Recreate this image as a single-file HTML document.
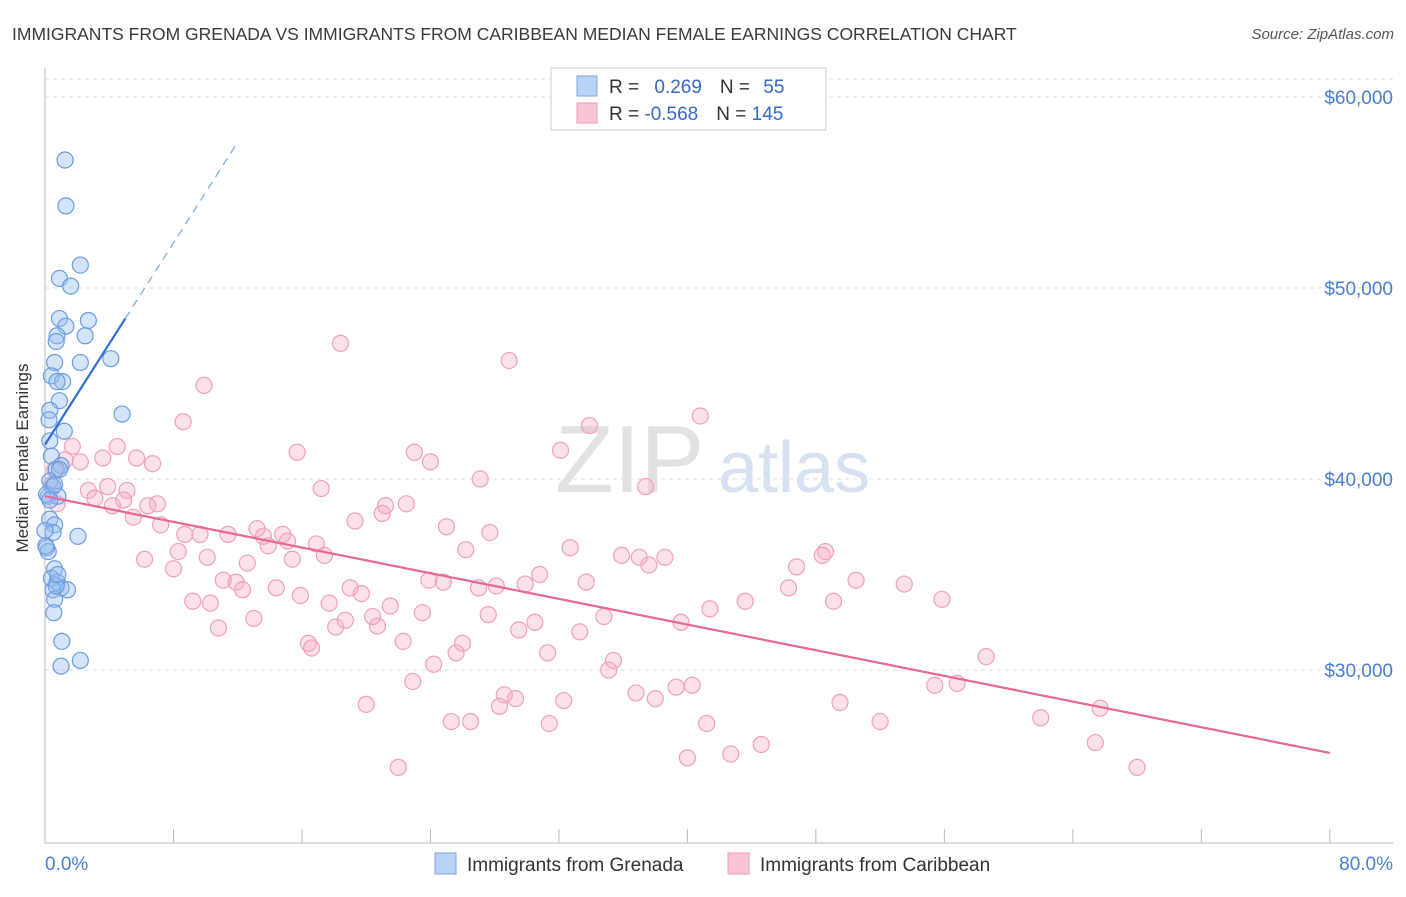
<!DOCTYPE html>
<html><head><meta charset="utf-8">
<style>
body{margin:0;background:#fff;font-family:"Liberation Sans",sans-serif;}
svg text{font-family:"Liberation Sans",sans-serif;}
</style></head>
<body>
<svg id="chart" width="1406" height="892">
<text x="12" y="40" font-size="17.5" fill="#3a3a3a">IMMIGRANTS FROM GRENADA VS IMMIGRANTS FROM CARIBBEAN MEDIAN FEMALE EARNINGS CORRELATION CHART</text>
<text x="1394" y="39" font-size="15" fill="#555" text-anchor="end" font-style="italic">Source: ZipAtlas.com</text>
<text x="28" y="458" font-size="17" fill="#333" text-anchor="middle" transform="rotate(-90 28 458)">Median Female Earnings</text>
<g><text x="555" y="492" font-size="96" fill="#e2e2e2" font-family="Liberation Serif">ZIP</text><text x="718" y="492" font-size="72" fill="#d6e2f2">atlas</text></g>
<g id="grid"></g>
<g id="axes"></g>
<g id="pts"></g>
<g id="trend"></g>
<g>
<rect x="551" y="68" width="275" height="62" fill="#fff" stroke="#ccc"/>
<rect x="577" y="76" width="20" height="20" fill="#b9d2f5" stroke="#7aa6e6"/>
<rect x="577" y="103" width="20" height="20" fill="#f9c5d5" stroke="#ee9ab5"/>
<text x="609" y="93" font-size="19" fill="#333">R = <tspan fill="#3568c8" dx="10">0.269</tspan><tspan dx="18" fill="#333">N = </tspan><tspan fill="#3568c8" dx="8">55</tspan></text>
<text x="609" y="120" font-size="19" fill="#333">R = <tspan fill="#3568c8">-0.568</tspan><tspan dx="18" fill="#333">N = </tspan><tspan fill="#3568c8">145</tspan></text>
</g>
<g>
<rect x="435" y="853" width="21" height="21" fill="#b9d2f5" stroke="#7aa6e6"/>
<text x="467" y="871" font-size="19" fill="#333">Immigrants from Grenada</text>
<rect x="728" y="853" width="21" height="21" fill="#f9c5d5" stroke="#ee9ab5"/>
<text x="760" y="871" font-size="19" fill="#333">Immigrants from Caribbean</text>
</g>
</svg>
<script>
const yTicks=[30,40,50,60];
const yTickLabels=["$30,000","$40,000","$50,000","$60,000"];
const xTickCount=[0,8,16,24,32,40,48,56,64,72,80];
const xEndLabels=["0.0%","80.0%"];
const blueX=[1.25,1.3,2.2,0.9,1.6,0.9,2.7,1.3,0.75,2.5,0.7,0.6,2.2,4.1,0.4,1.1,0.75,0.9,4.8,0.3,0.25,1.2,0.3,0.4,1.0,0.7,0.3,0.5,0.2,0.8,0.3,0.6,0.5,2.05,0.1,0.2,0.6,0.4,0.75,1.0,0.5,1.4,0.6,0.55,1.05,1.0,2.2,0.1,0.3,0.6,0.9,0.0,0.05,0.7,0.8];
const blueV=[56.7,54.3,51.2,50.5,50.1,48.4,48.3,48.0,47.5,47.5,47.2,46.1,46.1,46.3,45.4,45.1,45.1,44.1,43.4,43.6,43.1,42.5,42.0,41.2,40.7,40.5,39.9,39.6,39.1,39.1,37.9,37.6,37.2,37.0,36.4,36.2,35.3,34.8,34.6,34.3,34.2,34.2,33.7,33.0,31.5,30.2,30.5,39.2,38.9,39.7,40.5,37.3,36.5,34.4,35.0];
const pinkX=[18.4,28.9,9.9,40.8,33.9,8.6,15.7,23.0,32.1,24.0,4.5,1.7,3.6,5.7,6.7,2.2,1.25,0.6,27.1,37.4,17.2,0.4,2.7,3.9,5.1,3.1,4.2,4.9,6.4,7.0,22.5,21.2,21.0,0.75,5.5,7.2,19.3,25.0,27.7,13.2,8.7,9.65,11.4,13.6,14.8,13.9,15.1,16.9,17.4,26.2,32.7,8.3,10.1,6.2,8.0,12.6,15.4,35.9,37.0,38.6,37.6,48.6,46.8,48.4,30.8,11.1,11.9,12.3,14.4,19.0,15.9,23.9,24.8,27.0,28.1,29.9,33.7,50.5,53.5,9.2,10.3,17.7,19.7,21.5,23.5,27.6,41.4,43.6,46.3,49.1,55.85,13.0,18.1,18.7,20.7,20.4,29.5,30.5,34.8,33.3,39.6,10.8,16.4,16.6,22.3,26.0,25.6,31.3,24.2,35.4,35.1,58.6,22.9,36.8,38.0,39.3,40.3,28.6,29.3,28.3,32.3,20.0,49.5,55.4,56.8,52.0,62.0,65.7,25.3,26.5,31.4,41.2,40.0,42.7,44.6,65.4,68.0,22.0];
const pinkV=[47.1,46.2,44.9,43.3,42.8,43.0,41.4,41.4,41.5,40.9,41.7,41.7,41.1,41.1,40.8,40.9,41.0,40.5,40.0,39.6,39.5,39.7,39.4,39.6,39.4,39.0,38.6,38.9,38.6,38.7,38.7,38.6,38.2,38.7,38.0,37.6,37.8,37.5,37.2,37.4,37.1,37.1,37.1,37.0,37.1,36.5,36.75,36.6,36.0,36.3,36.4,36.2,35.9,35.8,35.3,35.6,35.8,36.0,35.9,35.9,35.5,36.2,35.4,36.0,35.0,34.7,34.6,34.2,34.3,34.3,33.9,34.7,34.6,34.3,34.4,34.5,34.6,34.7,34.5,33.6,33.5,33.5,34.0,33.35,33.0,32.9,33.2,33.6,34.3,33.6,33.7,32.7,32.25,32.6,32.3,32.8,32.1,32.5,32.8,32.0,32.5,32.2,31.4,31.15,31.5,31.4,30.9,30.9,30.3,30.5,30.0,30.7,29.4,28.8,28.5,29.1,29.2,28.7,28.5,28.1,28.4,28.2,28.3,29.2,29.3,27.3,27.5,28.0,27.3,27.3,27.2,27.2,25.4,25.6,26.1,26.2,24.9,24.9];
const blueTrend=[41.8,1.32];   // intercept, slope
const pinkTrend=[39.1,-0.168];
const NS="http://www.w3.org/2000/svg";
const sx=p=>45+p*16.06, sy=v=>670-(v-30)*19.1;
function mk(tag,attrs,parent){const e=document.createElementNS(NS,tag);for(const k in attrs)e.setAttribute(k,attrs[k]);parent.appendChild(e);return e;}
const grid=document.getElementById('grid'),axes=document.getElementById('axes'),pts=document.getElementById('pts'),tr=document.getElementById('trend');
yTicks.forEach((t,i)=>{
  const l=mk('line',{x1:45,x2:1393,y1:sy(t),y2:sy(t),stroke:'#ddd','stroke-dasharray':'4,4'},grid);
  
  
  const tx=mk('text',{x:1393,y:sy(t)+7,'font-size':19,fill:'#4a7fd0','text-anchor':'end'},axes);
  tx.textContent=yTickLabels[i];
  
  
});
const tl=mk('line',{x1:45,x2:1393,y1:79,y2:79,stroke:'#ddd','stroke-dasharray':'4,4'},grid);


const ya=mk('line',{x1:45,x2:45,y1:68,y2:843,stroke:'#bbb'},axes);


const xa=mk('line',{x1:45,x2:1393,y1:843,y2:843,stroke:'#bbb'},axes);


xTickCount.forEach(p=>{const t=mk('line',{x1:sx(p),x2:sx(p),y1:829,y2:843,stroke:'#bbb'},axes);
  
  });
[[0,'start',xEndLabels[0]],[80,'end',xEndLabels[1]]].forEach(a=>{const t=mk('text',{x:a[0]==0?45:1393,y:870,'font-size':19,fill:'#4a7fd0','text-anchor':a[1]},axes);t.textContent=a[2];
  
  });
pinkX.forEach((p,i)=>{const c=mk('circle',{cx:sx(p),cy:sy(pinkV[i]),r:8,fill:'rgba(246,170,195,0.35)',stroke:'#f0a0bb','stroke-width':1.2},pts);
  
  });
blueX.forEach((p,i)=>{const c=mk('circle',{cx:sx(p),cy:sy(blueV[i]),r:8,fill:'rgba(150,190,240,0.4)',stroke:'#6a9ce0','stroke-width':1.2},pts);
  
  });
const bf=x=>blueTrend[0]+blueTrend[1]*x, pf=x=>pinkTrend[0]+pinkTrend[1]*x;
const b1=mk('line',{x1:sx(0),y1:sy(bf(0)),x2:sx(5),y2:sy(bf(5)),stroke:'#2f6fd6','stroke-width':2.2},tr);


const b2=mk('line',{x1:sx(5),y1:sy(bf(5)),x2:sx(12),y2:sy(bf(12)),stroke:'#7aa6e6','stroke-width':1.2,'stroke-dasharray':'8,6'},tr);


const p1=mk('line',{x1:sx(0),y1:sy(pf(0)),x2:sx(80),y2:sy(pf(80)),stroke:'#e8679a','stroke-width':2.2},tr);


</script>
</body></html>
